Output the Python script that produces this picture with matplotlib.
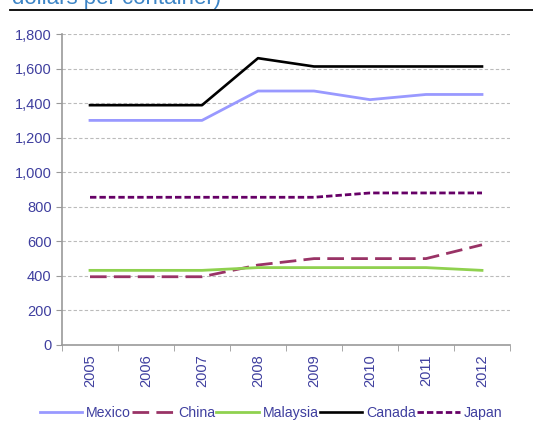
import numpy as np
import matplotlib
matplotlib.use("Agg")
import matplotlib.pyplot as plt
from matplotlib.ticker import FuncFormatter, FixedLocator

years = ["2005", "2006", "2007", "2008", "2009", "2010", "2011", "2012"]
mexico = [1300, 1300, 1300, 1470, 1470, 1420, 1450, 1450]
china = [395, 395, 395, 463, 500, 500, 500, 580]
malaysia = [432, 432, 432, 448, 448, 448, 448, 432]
canada = [1388, 1388, 1388, 1660, 1612, 1612, 1612, 1612]
japan = [855, 855, 855, 855, 855, 880, 880, 880]

TXT = "#3F3F9F"
plt.rcParams["font.family"] = ["Liberation Sans", "DejaVu Sans"]

fig = plt.figure(figsize=(5.33, 4.45), dpi=100)
ax = fig.add_axes([62 / 533, 1 - 345 / 445, 448 / 533, 311 / 445])

x = np.arange(len(years))
ax.plot(x, mexico, color="#9999FF", lw=2.0, label="Mexico")
ax.plot(x, china, color="#993366", lw=2.0, dashes=(6, 2.6), label="China")
ax.plot(x, malaysia, color="#8FD14F", lw=2.0, label="Malaysia")
ax.plot(x, canada, color="black", lw=1.9, label="Canada")
ax.plot(x, japan, color="#660066", lw=2.0, dashes=(2.3, 1.1), label="Japan")

ax.set_xlim(-0.5, len(years) - 0.5)
ax.set_ylim(0, 1800)
ax.set_yticks(range(0, 1801, 200))
ax.yaxis.set_major_formatter(FuncFormatter(lambda v, p: f"{int(v):,}"))
ax.set_xticks(x)
ax.set_xticklabels(years, rotation=90)
ax.xaxis.set_minor_locator(FixedLocator(np.arange(-0.5, len(years), 1)))
ax.tick_params(axis="x", which="major", length=0, pad=7, labelsize=10.5, labelcolor=TXT)
ax.tick_params(axis="x", which="minor", length=4, color="#999999")
ax.tick_params(axis="y", length=4, color="#999999", labelsize=10.5, labelcolor=TXT)

for v in range(200, 1801, 200):
    ax.axhline(v, color="#BBBBBB", lw=0.8, ls=(0, (3, 2)), zorder=0)

for s in ["top", "right"]:
    ax.spines[s].set_visible(False)
for s in ["left", "bottom"]:
    ax.spines[s].set_color("#999999")
    ax.spines[s].set_linewidth(1.2)

leg = fig.legend(loc="center", bbox_to_anchor=(271 / 533, 1 - 413 / 445), ncol=5, frameon=False,
                 fontsize=10.2, handlelength=3.0, handletextpad=0.3, columnspacing=0.05)
for t in leg.get_texts():
    t.set_color(TXT)

# cut-off title and rule at the top
fig.text(12 / 533, 1 - 4 / 445, "dollars per container)", color="#3D85C6",
         fontsize=16, va="baseline", ha="left")
fig.add_artist(plt.Line2D([10 / 533, 1], [1 - 9.5 / 445] * 2, color="black", lw=1.3,
                          transform=fig.transFigure))

fig.savefig("out.png", dpi=100)
